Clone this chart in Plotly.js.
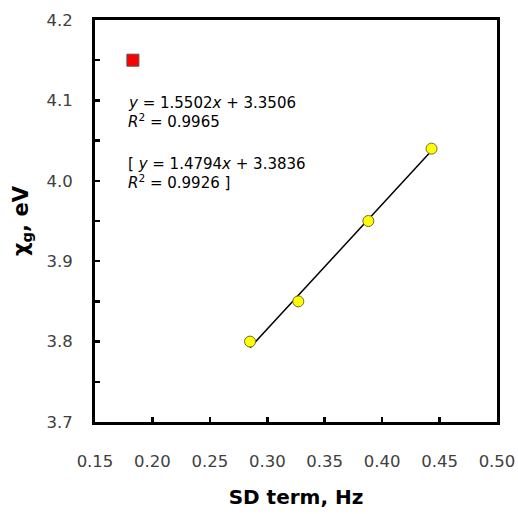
<!DOCTYPE html>
<html>
<head>
<meta charset="utf-8">
<script src="https://cdn.plot.ly/plotly-3.0.1.min.js"></script>
<style>html,body{margin:0;padding:0;background:#fff;}#chart{width:518px;height:514px;}</style>
</head>
<body>
<div id="chart"></div>
<script>
// Data
const sdTerm = [0.285, 0.327, 0.388, 0.443];
const chiG = [3.80, 3.85, 3.95, 4.04];
const outlierX = [0.183];
const outlierY = [4.15];
const fitSlope = 1.5502;
const fitIntercept = 3.3506;
const fitLabels = ["<i>y</i> = 1.5502<i>x</i> + 3.3506", "<i>R</i><sup>2</sup> = 0.9965",
                   "[ <i>y</i> = 1.4794<i>x</i> + 3.3836", "<i>R</i><sup>2</sup> = 0.9926 ]"];
const xTickVals = [0.15, 0.20, 0.25, 0.30, 0.35, 0.40, 0.45, 0.50];
const yTickVals = [3.7, 3.8, 3.9, 4.0, 4.1, 4.2];

const xMin = Math.min(...sdTerm), xMax = Math.max(...sdTerm);
const fitX = [xMin, xMax];
const fitY = fitX.map(v => fitSlope * v + fitIntercept);

const traces = [
  {x: fitX, y: fitY, mode: 'lines', line: {color: '#000', width: 1.5}, hoverinfo: 'skip', showlegend: false},
  {x: sdTerm, y: chiG, mode: 'markers', showlegend: false,
   marker: {symbol: 'circle', size: 11, color: '#ffff00', line: {color: '#6b6b3a', width: 1}}},
  {x: outlierX, y: outlierY, mode: 'markers', showlegend: false,
   marker: {symbol: 'square', size: 12, color: '#ff0000', line: {color: '#555', width: 1}}}
];

const annY = [4.097, 4.0745, 4.0215, 3.999];
const annotations = fitLabels.map((t, i) => ({
  x: 0.177, y: annY[i], xref: 'x', yref: 'y', text: t, showarrow: false,
  xanchor: 'left', yanchor: 'middle', align: 'left',
  font: {family: 'DejaVu Sans, sans-serif', size: 15, color: '#000'}
}));

const layout = {
  width: 518, height: 514,
  margin: {l: 95, r: 21, t: 20, b: 92},
  paper_bgcolor: '#fff', plot_bgcolor: '#fff',
  showlegend: false,
  font: {family: 'DejaVu Sans, sans-serif', color: '#404040'},
  xaxis: {
    range: [0.15, 0.50], tickvals: xTickVals, ticktext: xTickVals.map(v => v.toFixed(2)),
    ticks: 'inside', ticklen: 5, tickwidth: 2.5, tickcolor: '#000',
    showline: true, linewidth: 3, linecolor: '#000', mirror: true,
    showgrid: false, zeroline: false, ticklabelstandoff: 22,
    tickfont: {family: 'DejaVu Sans, sans-serif', size: 16.5, color: '#404040'},
    title: {text: '<b>SD term, Hz</b>', standoff: 21,
            font: {family: 'DejaVu Sans, sans-serif', size: 20, color: '#000'}}
  },
  yaxis: {
    range: [3.7, 4.2], tickvals: yTickVals, ticktext: yTickVals.map(v => v.toFixed(1)),
    ticks: 'inside', ticklen: 5, tickwidth: 2.5, tickcolor: '#000',
    minor: {dtick: 0.05, tick0: 3.7, ticks: 'inside', ticklen: 5, tickwidth: 2.5, tickcolor: '#000', showgrid: false},
    showline: true, linewidth: 3, linecolor: '#000', mirror: true,
    showgrid: false, zeroline: false, ticklabelstandoff: 16,
    tickfont: {family: 'DejaVu Sans, sans-serif', size: 16.5, color: '#404040'},
    title: {text: '<b>χ<sub>g</sub>, eV</b>', standoff: 13,
            font: {family: 'DejaVu Sans, sans-serif', size: 21, color: '#000'}}
  },
  annotations: annotations
};

Plotly.newPlot('chart', traces, layout, {displayModeBar: false, staticPlot: true});
</script>
</body>
</html>
